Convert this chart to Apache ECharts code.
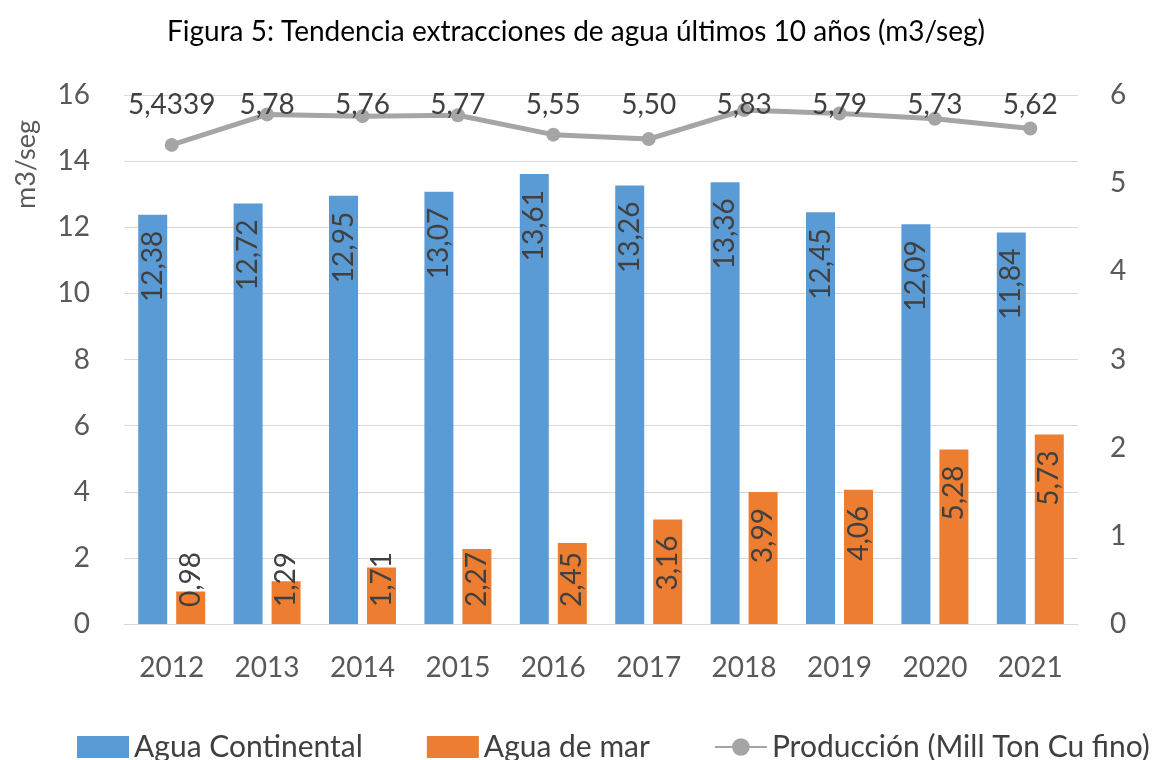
<!DOCTYPE html>
<html>
<head>
<meta charset="utf-8">
<script src="https://cdn.jsdelivr.net/npm/echarts@6/dist/echarts.min.js"></script>
<style>html,body{margin:0;padding:0;background:#fff;}#c{width:1152px;height:760px;}</style>
</head>
<body>
<div id="c"></div>
<script>
const years = ['2012','2013','2014','2015','2016','2017','2018','2019','2020','2021'];
const aguaContinental = [12.38, 12.72, 12.95, 13.07, 13.61, 13.26, 13.36, 12.45, 12.09, 11.84];
const aguaMar = [0.98, 1.29, 1.71, 2.27, 2.45, 3.16, 3.99, 4.06, 5.28, 5.73];
const produccion = [5.4339, 5.78, 5.76, 5.77, 5.55, 5.50, 5.83, 5.79, 5.73, 5.62];
const produccionLabels = ['5,4339','5,78','5,76','5,77','5,55','5,50','5,83','5,79','5,73','5,62'];
const leftTicks = [0, 16, 2];
const rightTicks = [0, 6, 1];

const FONT = 'Lato';
const fmt = v => v.toFixed(2).replace('.', ',');

const chart = echarts.init(document.getElementById('c'), null, {renderer: 'canvas'});

const labelBase = {
  show: true, rotate: 90, color: '#404040', fontFamily: FONT, fontSize: 28,
  verticalAlign: 'middle'
};

const marData = aguaMar.map(v => ({
  value: v,
  label: v < 2.6
    ? {position: 'insideBottom', align: 'left', distance: 17}
    : {position: 'insideTop', align: 'right', distance: 16}
}));

chart.setOption({
  animation: false,
  textStyle: {fontFamily: FONT},
  title: {
    text: 'Figura 5: Tendencia extracciones de agua últimos 10 años (m3/seg)',
    left: 'center', top: 13,
    textStyle: {fontFamily: FONT, fontSize: 28, fontWeight: 'normal', color: '#000'}
  },
  grid: {left: 124, right: 74, top: 95, bottom: 136},
  legend: {
    bottom: -2, left: 77, width: 1150, padding: 0,
    itemWidth: 52, itemHeight: 22, itemGap: 64,
    textStyle: {fontFamily: FONT, fontSize: 30, color: '#404040'},
    data: [
      {name: 'Agua Continental', icon: 'rect'},
      {name: 'Agua de mar', icon: 'rect'},
      {name: 'Producción (Mill Ton Cu fino)'}
    ]
  },
  graphic: [{
    type: 'text', left: 13, top: 120, rotation: Math.PI / 2,
    style: {text: 'm3/seg', font: '27px "' + FONT + '"', fill: '#595959'}
  }],
  xAxis: {
    type: 'category', data: years,
    axisLine: {lineStyle: {color: '#D9D9D9', width: 1}},
    axisTick: {show: false},
    axisLabel: {color: '#595959', fontFamily: FONT, fontSize: 28, margin: 30}
  },
  yAxis: [{
    type: 'value', min: leftTicks[0], max: leftTicks[1], interval: leftTicks[2],
    axisLine: {show: false}, axisTick: {show: false},
    axisLabel: {color: '#595959', fontFamily: FONT, fontSize: 28, margin: 34},
    splitLine: {lineStyle: {color: '#D9D9D9', width: 1}}
  }, {
    type: 'value', min: rightTicks[0], max: rightTicks[1], interval: rightTicks[2],
    axisLine: {show: false}, axisTick: {show: false},
    axisLabel: {color: '#595959', fontFamily: FONT, fontSize: 28, margin: 32},
    splitLine: {show: false}
  }],
  series: [{
    name: 'Agua Continental', type: 'bar', data: aguaContinental,
    barWidth: 29, barGap: '31%',
    itemStyle: {color: '#5B9BD5'},
    label: Object.assign({}, labelBase, {position: 'insideTop', align: 'right', distance: 16,
      formatter: p => fmt(p.value)})
  }, {
    name: 'Agua de mar', type: 'bar', data: marData,
    barWidth: 29,
    itemStyle: {color: '#ED7D31'},
    label: Object.assign({}, labelBase, {formatter: p => fmt(p.value)})
  }, {
    name: 'Producción (Mill Ton Cu fino)', type: 'line', yAxisIndex: 1,
    data: produccion,
    symbol: 'circle', symbolSize: 14,
    lineStyle: {color: '#A5A5A5', width: 5},
    itemStyle: {color: '#A5A5A5'},
    label: {
      show: true, position: 'top', color: '#404040', fontFamily: FONT, fontSize: 28,
      formatter: p => produccionLabels[p.dataIndex]
    },
    labelLayout: p => ({x: p.rect.x + p.rect.width / 2, y: 119, align: 'center', verticalAlign: 'bottom'})
  }]
});
</script>
</body>
</html>
